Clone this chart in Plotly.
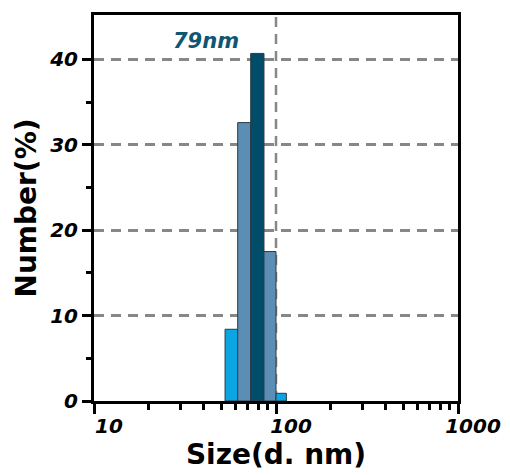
import plotly.graph_objects as go

# Data
bin_edges = [52.5, 61.6, 72.6, 85.9, 100.0, 114.0]   # size, d.nm
number_pct = [8.4, 32.6, 40.7, 17.5, 0.9]              # Number (%)
bar_colors = ["#0AA6E4", "#5B8DB5", "#014C69", "#5B8DB5", "#0AA6E4"]
peak_label = "79nm"
y_ticks = [0, 10, 20, 30, 40]
y_minor = [5, 15, 25, 35]
x_ticks = [10, 100, 1000]
x_minor = [20, 30, 40, 50, 60, 70, 80, 90, 200, 300, 400, 500, 600, 700, 800, 900]

FONT = "DejaVu Sans"
DASH = "10px,7px"

fig = go.Figure()

for i, h in enumerate(number_pct):
    x0, x1 = bin_edges[i], bin_edges[i + 1]
    fig.add_trace(go.Scatter(
        x=[x0, x0, x1, x1, x0], y=[0, h, h, 0, 0],
        mode="lines", fill="toself", fillcolor=bar_colors[i],
        line=dict(color="#2b3a42", width=1), hoverinfo="skip", showlegend=False))

fig.add_shape(type="line", xref="x", yref="paper", x0=100, x1=100, y0=0, y1=1,
              line=dict(color="#878787", width=2.5, dash=DASH), layer="below")

fig.add_annotation(x=1.615, y=42.2, xref="x", yref="y", text=peak_label, showarrow=False,
                   font=dict(family=FONT, size=21, color="#0F5673", weight="bold", style="italic"))

tickfont = dict(family=FONT, size=20, color="black", weight="bold", style="italic")
titlefont = dict(family=FONT, size=28, color="black", weight="bold")

fig.update_xaxes(type="log", range=[1, 3], tickvals=x_ticks, ticktext=[str(v) for v in x_ticks],
                 ticks="outside", ticklen=10, tickwidth=3, tickcolor="black",
                 ticklabelshift=15, ticklabelstandoff=-5, automargin=False,
                 minor=dict(tickvals=x_minor, ticks="outside", ticklen=6, tickwidth=2.5,
                            tickcolor="black", showgrid=False),
                 showline=True, linecolor="black", linewidth=3, mirror=True,
                 showgrid=False, zeroline=False, tickfont=tickfont,
                 title=dict(text="Size(d. nm)", font=titlefont, standoff=8))
fig.update_yaxes(range=[0, 45.2], tickvals=y_ticks, ticks="outside", ticklen=9, tickwidth=3,
                 tickcolor="black", automargin=False,
                 minor=dict(tickvals=y_minor, ticks="outside", ticklen=5, tickwidth=2.5,
                            tickcolor="black", showgrid=False),
                 showline=True, linecolor="black", linewidth=3, mirror=True,
                 showgrid=True, gridcolor="#878787", gridwidth=2.5, griddash=DASH,
                 zeroline=False, tickfont=tickfont,
                 title=dict(text="Number(%)", font=titlefont, standoff=5))

fig.update_layout(width=510, height=475, margin=dict(l=94, r=52, t=15, b=74),
                  plot_bgcolor="white", paper_bgcolor="white")

fig.write_html("out.html")
